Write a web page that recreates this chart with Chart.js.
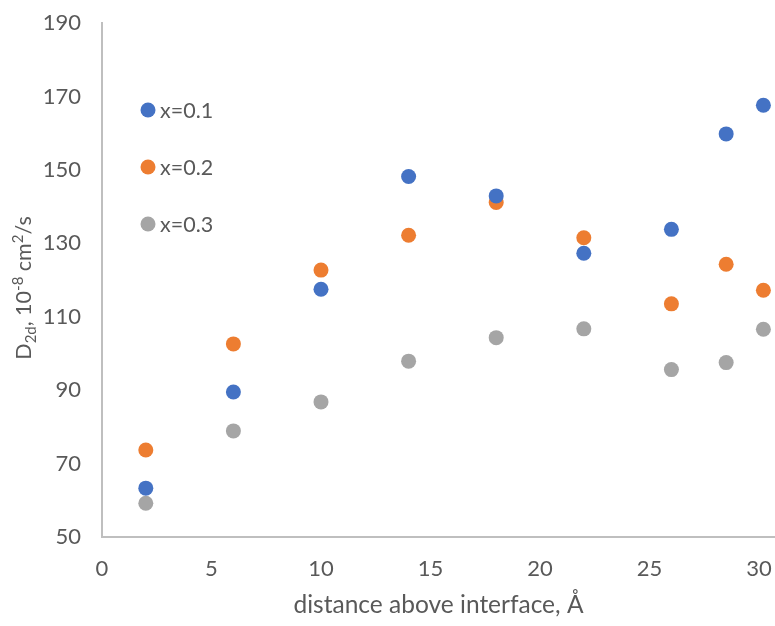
<!DOCTYPE html>
<html>
<head>
<meta charset="utf-8">
<script src="https://cdn.jsdelivr.net/npm/chart.js@4.4.1/dist/chart.umd.min.js"></script>
<style>
  html, body { margin: 0; padding: 0; background: #fff; }
</style>
</head>
<body>
<canvas id="chart" width="775" height="626"></canvas>
<script>
const distances = [2, 6, 10, 14, 18, 22, 26, 28.5, 30.2];
const seriesNames = ["x=0.1", "x=0.2", "x=0.3"];
const x01 = [63.3, 89.5, 117.5, 148.2, 142.9, 127.3, 133.8, 159.8, 167.6];
const x02 = [73.7, 102.6, 122.7, 132.2, 141.1, 131.5, 113.5, 124.3, 117.2];
const x03 = [59.2, 78.9, 86.8, 97.9, 104.3, 106.7, 95.6, 97.5, 106.6];
const colors = ["#4472C4", "#ED7D31", "#A5A5A5"];

const xTicks = [0, 5, 10, 15, 20, 25, 30];
const yMin = 50, yMax = 190, yStep = 20;

const FONT = "Lato";
const TEXT = "#595959";
const AXIS = "#BFBFBF";

const toPoints = (ys) => distances.map((d, i) => ({ x: d, y: ys[i] }));

// legend sits inside the plot area, stacked on the left
const insideLegend = {
  id: "insideLegend",
  afterDraw(chart) {
    const ctx = chart.ctx;
    const ca = chart.chartArea;
    ctx.save();
    ctx.font = `21.5px ${FONT}`;
    ctx.textBaseline = "middle";
    chart.data.datasets.forEach((ds, i) => {
      const cy = ca.top + 87 + i * 57;
      const cx = ca.left + 46;
      ctx.beginPath();
      ctx.arc(cx, cy, 7.5, 0, Math.PI * 2);
      ctx.fillStyle = ds.backgroundColor;
      ctx.fill();
      ctx.fillStyle = TEXT;
      ctx.fillText(ds.label, cx + 12, cy + 1);
    });
    ctx.restore();
  },
};

// y title with sub/superscripts, drawn rotated
const yTitle = {
  id: "yTitle",
  afterDraw(chart) {
    const ctx = chart.ctx;
    const parts = [
      { t: "D", s: 21.5, dy: 0 },
      { t: "2d", s: 15, dy: 5 },
      { t: ", 10", s: 21.5, dy: 0 },
      { t: "-8", s: 15, dy: -8 },
      { t: " cm", s: 21.5, dy: 0 },
      { t: "2", s: 15, dy: -8 },
      { t: "/s", s: 21.5, dy: 0 },
    ];
    ctx.save();
    let total = 0;
    parts.forEach((p) => {
      ctx.font = `${p.s}px ${FONT}`;
      p.w = ctx.measureText(p.t).width;
      total += p.w;
    });
    ctx.translate(31, 288);
    ctx.rotate(-Math.PI / 2);
    ctx.fillStyle = TEXT;
    ctx.textBaseline = "alphabetic";
    let x = -total / 2;
    parts.forEach((p) => {
      ctx.font = `${p.s}px ${FONT}`;
      ctx.fillText(p.t, x, p.dy);
      x += p.w;
    });
    ctx.restore();
  },
};

new Chart(document.getElementById("chart"), {
  type: "scatter",
  data: {
    datasets: [
      { label: seriesNames[0], data: toPoints(x01), backgroundColor: colors[0] },
      { label: seriesNames[1], data: toPoints(x02), backgroundColor: colors[1] },
      { label: seriesNames[2], data: toPoints(x03), backgroundColor: colors[2] },
    ].map((d) => ({ ...d, borderWidth: 0, pointRadius: 7.5, pointHoverRadius: 7.5 })),
  },
  plugins: [insideLegend, yTitle],
  options: {
    responsive: false,
    animation: false,
    layout: { autoPadding: false, padding: { top: 23, right: 0, bottom: 0, left: 0 } },
    plugins: {
      legend: { display: false },
      tooltip: { enabled: false },
    },
    scales: {
      x: {
        type: "linear",
        min: 0,
        max: 30.73,
        afterBuildTicks: (s) => {
          s.ticks = xTicks.map((v) => ({ value: v }));
        },
        afterFit: (s) => {
          s.height = 89;
          s.paddingLeft = 0;
          s.paddingRight = 0;
        },
        grid: { display: false, drawTicks: false },
        border: { display: true, color: AXIS, width: 2 },
        ticks: { color: TEXT, font: { family: FONT, size: 22 }, padding: 19, maxRotation: 0 },
        title: {
          display: true,
          text: "distance above interface, Å",
          color: TEXT,
          font: { family: FONT, size: 24.5 },
          padding: { top: 0, bottom: 6 },
        },
      },
      y: {
        min: yMin,
        max: yMax,
        afterFit: (s) => {
          s.width = 102;
          s.paddingTop = 0;
          s.paddingBottom = 0;
        },
        grid: { display: false, drawTicks: false },
        border: { display: true, color: AXIS, width: 2 },
        ticks: { stepSize: yStep, color: TEXT, font: { family: FONT, size: 22 }, padding: 21 },
      },
    },
  },
});
</script>
</body>
</html>
